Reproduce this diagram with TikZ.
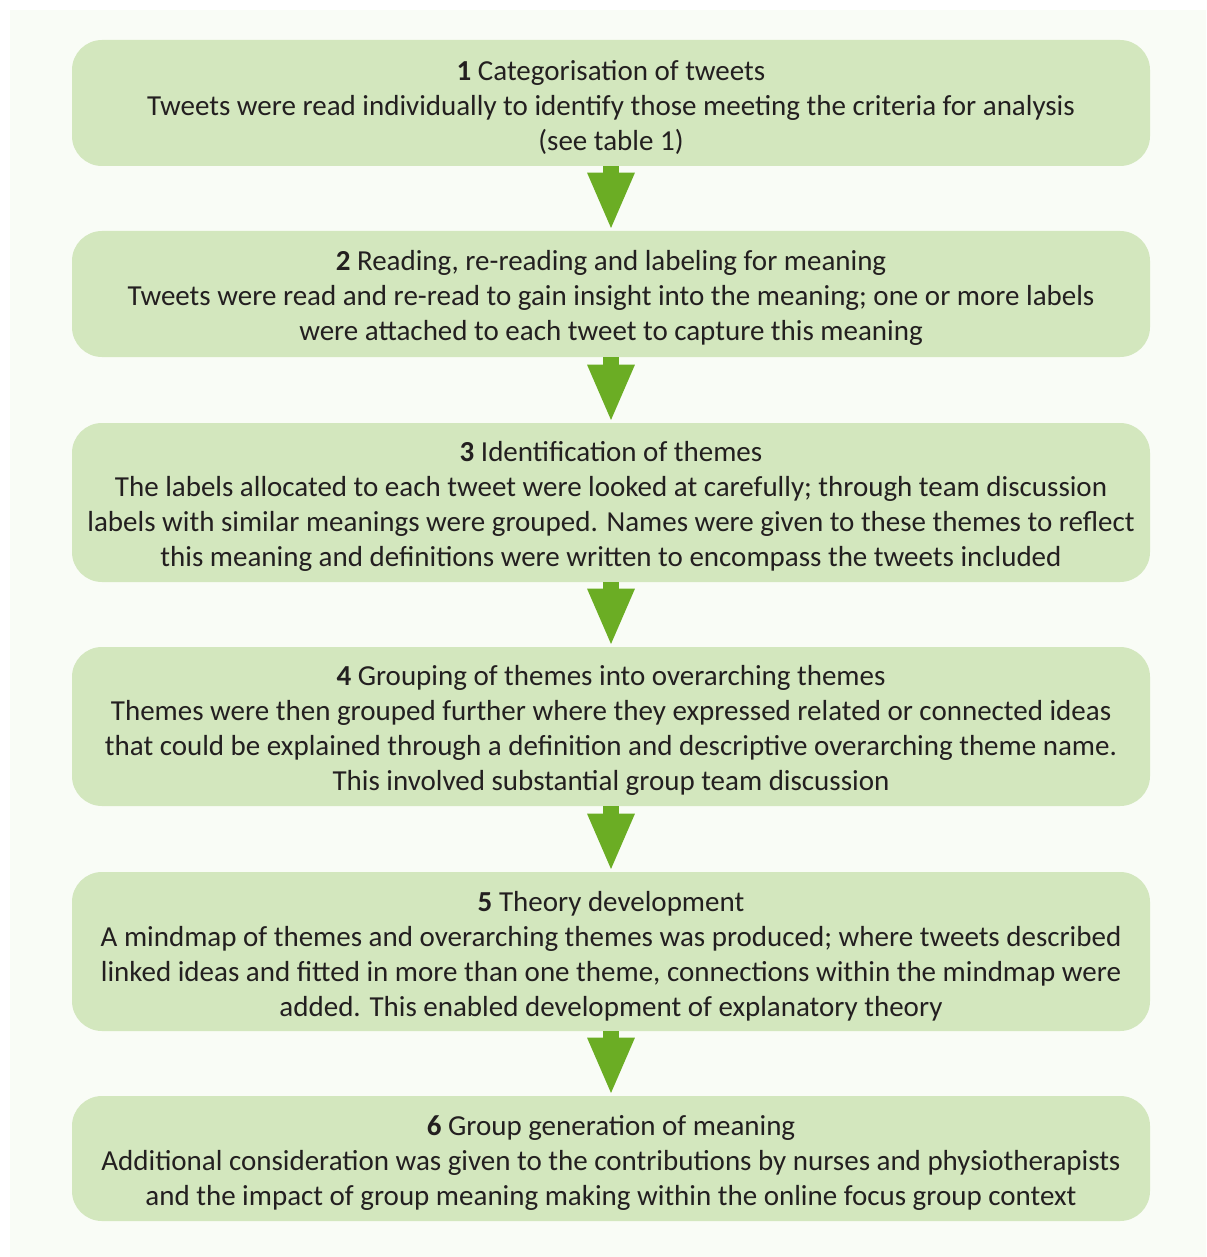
\documentclass[tikz,border=0pt]{standalone}
\usepackage{fontspec}
\setmainfont{Carlito}
\usetikzlibrary{arrows.meta}
\definecolor{panelbg}{HTML}{F9FCF6}
\definecolor{boxfill}{HTML}{D3E7BE}
\definecolor{arrowgreen}{HTML}{6BAD24}
\definecolor{textdark}{HTML}{231F20}
\begin{document}
\begin{tikzpicture}[x=0.5pt,y=-0.5pt,
  stagebox/.style={fill=boxfill, rounded corners=15pt, minimum width=539pt,
    inner sep=0pt},
  stagetext/.style={align=center, text=textdark, inner sep=0pt,
    font=\fontsize{14.5pt}{17.5pt}\selectfont},
  flowarrow/.style={draw=arrowgreen, line width=8pt,
    -{Triangle[width=21.5pt,length=29pt]}}]
  % page and background panel
  \useasboundingbox (0,0) rectangle (1206,1257);
  \fill[white] (0,0) rectangle (1206,1257);
  \fill[panelbg] (10,10) rectangle (1206,1257);

  % process stage boxes
  \node[stagebox, minimum height=63pt]   (s1) at (611,103)    {};
  \node[stagebox, minimum height=63pt]   (s2) at (611,294)    {};
  \node[stagebox, minimum height=79.5pt] (s3) at (611,502.5)  {};
  \node[stagebox, minimum height=79.5pt] (s4) at (611,726.5)  {};
  \node[stagebox, minimum height=79.5pt] (s5) at (611,951.5)  {};
  \node[stagebox, minimum height=62.5pt] (s6) at (611,1158.5) {};

  % stage descriptions
  \node[stagetext] (t1) at ([yshift=-2.2pt]s1.center)
    {\textbf{1} Categorisation of tweets\\
     Tweets were read individually to identify those meeting the criteria for analysis\\
     (see table 1)};
  \node[stagetext] (t2) at ([yshift=-2.2pt]s2.center)
    {\textbf{2} Reading, re-reading and labeling for meaning\\
     Tweets were read and re-read to gain insight into the meaning; one or more labels\\
     were attached to each tweet to capture this meaning};
  \node[stagetext] (t3) at ([yshift=-2.2pt]s3.center)
    {\textbf{3} Identification of themes\\
     The labels allocated to each tweet were looked at carefully; through team discussion\\
     labels with similar meanings were grouped. Names were given to these themes to reflect\\
     this meaning and definitions were written to encompass the tweets included};
  \node[stagetext] (t4) at ([yshift=-2.2pt]s4.center)
    {\textbf{4} Grouping of themes into overarching themes\\
     Themes were then grouped further where they expressed related or connected ideas\\
     that could be explained through a definition and descriptive overarching theme name.\\
     This involved substantial group team discussion};
  \node[stagetext] (t5) at ([yshift=-2.2pt]s5.center)
    {\textbf{5} Theory development\\
     A mindmap of themes and overarching themes was produced; where tweets described\\
     linked ideas and fitted in more than one theme, connections within the mindmap were\\
     added. This enabled development of explanatory theory};
  \node[stagetext] (t6) at ([yshift=-2.2pt]s6.center)
    {\textbf{6} Group generation of meaning\\
     Additional consideration was given to the contributions by nurses and physiotherapists\\
     and the impact of group meaning making within the online focus group context};

  % connectors between stages
  \draw[flowarrow] (s1.south) -- (s2.north);
  \draw[flowarrow] (s2.south) -- (s3.north);
  \draw[flowarrow] (s3.south) -- (s4.north);
  \draw[flowarrow] (s4.south) -- (s5.north);
  \draw[flowarrow] (s5.south) -- (s6.north);
\end{tikzpicture}
\end{document}
